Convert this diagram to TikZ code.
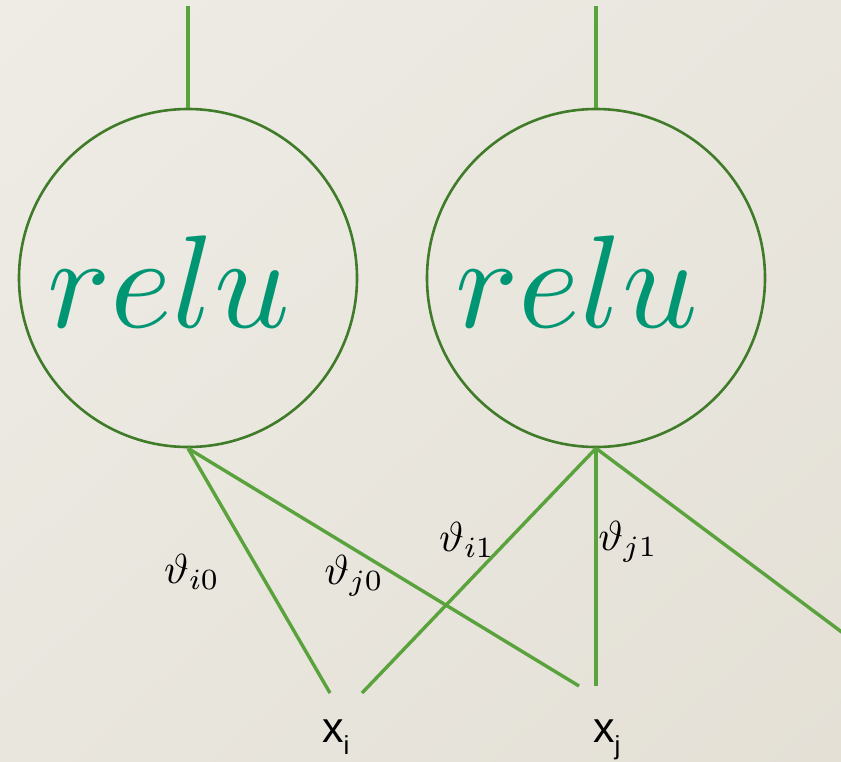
\documentclass[tikz,border=0pt]{standalone}
\usepackage{fontspec}
\usetikzlibrary{shadings}
\newfontfamily\labelsans{Liberation Sans}
\definecolor{bgA}{HTML}{EEECE5}
\definecolor{bgB}{HTML}{E9E6DE}
\definecolor{bgC}{HTML}{E4E0D6}
\definecolor{wire}{HTML}{5AA23C}
\definecolor{ring}{HTML}{3F7B29}
\definecolor{reluc}{HTML}{009674}
\newcommand{\relutext}{\scalebox{13.2}{$relu$}}
\newcommand{\wtext}[1]{\scalebox{4.2}{$\vartheta_{#1}$}}
\tikzset{
  neuron/.style={circle, draw=ring, line width=2.6pt, minimum size=338pt, inner sep=0pt},
  relulabel/.style={text=reluc, inner sep=0pt},
  wireline/.style={draw=wire, line width=3.4pt},
  wlabel/.style={inner sep=0pt},
  xlabel/.style={font=\labelsans\fontsize{43}{43}\selectfont, inner sep=0pt, anchor=base west}
}
\begin{document}
\begin{tikzpicture}[x=1pt,y=-1pt]
\useasboundingbox (0,0) rectangle (841,761);
\shade[upper left=bgA, upper right=bgB, lower left=bgB, lower right=bgC] (0,0) rectangle (841,761);
\begin{scope}
\clip (0,0) rectangle (841,761);
\node[neuron] (n0) at (188,278) {};
\node[neuron] (n1) at (596,278) {};
\node[relulabel] (r0) at ([xshift=-19pt,yshift=-4pt]n0.center) {\relutext};
\node[relulabel] (r1) at ([xshift=-19pt,yshift=-4pt]n1.center) {\relutext};
\coordinate (t0) at (188,6);
\coordinate (t1) at (596,6);
\coordinate (ei0) at (330,693);
\coordinate (ei1) at (362,693);
\coordinate (ej0) at (579,686);
\coordinate (ej1) at (596,686);
\coordinate (eout) at (843,633);
\draw[wireline] (t0) -- (n0.north);
\draw[wireline] (t1) -- (n1.north);
\draw[wireline] (n0.south) -- (ei0);
\draw[wireline] (n0.south) -- (ej0);
\draw[wireline] (n1.south) -- (ei1);
\draw[wireline] (n1.south) -- (ej1);
\draw[wireline] (n1.south) -- (eout);
\node[xlabel] (xi) at (322,742) {x\raisebox{-0.28em}{\fontsize{26}{26}\selectfont i}};
\node[xlabel] (xj) at (593,742) {x\raisebox{-0.28em}{\fontsize{26}{26}\selectfont j}};
\node[wlabel] (li0) at (192,572) {\wtext{i0}};
\node[wlabel] (lj0) at (354,576) {\wtext{j0}};
\node[wlabel] (li1) at (467,540) {\wtext{i1}};
\node[wlabel] (lj1) at (628,542) {\wtext{j1}};
\end{scope}
\end{tikzpicture}
\end{document}
